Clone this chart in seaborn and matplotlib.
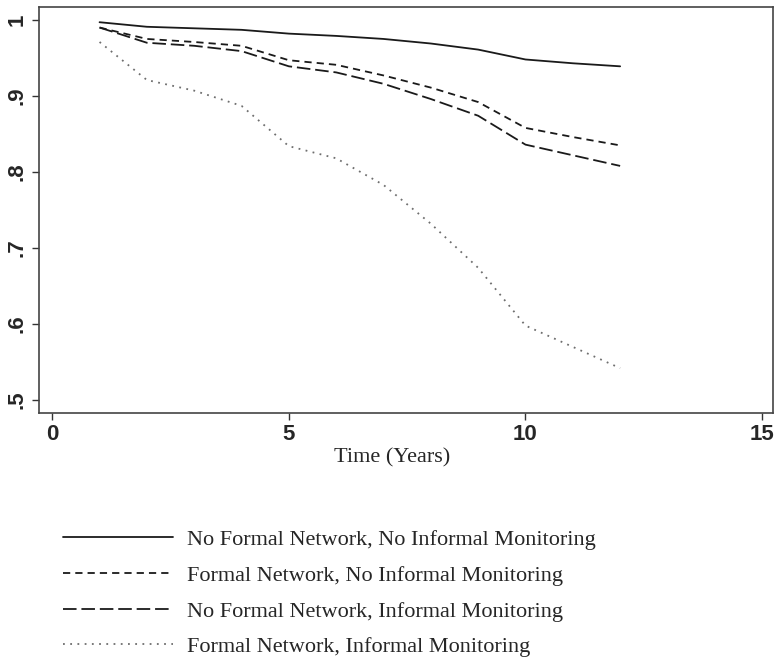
import pandas as pd
import seaborn as sns
import matplotlib.pyplot as plt

# survival curves over time (years 1-12)
years = [1, 2, 3, 4, 5, 6, 7, 8, 9, 10, 11, 12]

no_formal_no_informal = [0.997, 0.991, 0.989, 0.987, 0.982, 0.979, 0.975, 0.969, 0.961, 0.948, 0.943, 0.939]
formal_no_informal = [0.990, 0.975, 0.971, 0.966, 0.947, 0.941, 0.927, 0.911, 0.892, 0.858, 0.846, 0.835]
no_formal_informal = [0.990, 0.970, 0.966, 0.959, 0.939, 0.931, 0.916, 0.896, 0.874, 0.836, 0.822, 0.808]
formal_informal = [0.971, 0.921, 0.907, 0.887, 0.834, 0.818, 0.783, 0.732, 0.674, 0.598, 0.570, 0.542]

labels = ["No Formal Network, No Informal Monitoring",
          "Formal Network, No Informal Monitoring",
          "No Formal Network, Informal Monitoring",
          "Formal Network, Informal Monitoring"]

frames = []
for lab, vals in zip(labels, [no_formal_no_informal, formal_no_informal,
                              no_formal_informal, formal_informal]):
    frames.append(pd.DataFrame({"year": years, "surv": vals, "group": lab}))
df = pd.concat(frames, ignore_index=True)

sns.set_style("white")

palette = {labels[0]: "#1a1a1a", labels[1]: "#1a1a1a",
           labels[2]: "#1a1a1a", labels[3]: "#6e6e6e"}
dashes = {labels[0]: "", labels[1]: (4, 2.8),
          labels[2]: (7.5, 2.7), labels[3]: (1, 3)}

fig = plt.figure(figsize=(7.75, 6.68), dpi=100)
ax = fig.add_axes([0.0503, 0.3817, 0.9471, 0.6078])

sns.lineplot(data=df, x="year", y="surv", hue="group", style="group",
             palette=palette, dashes=dashes, linewidth=1.3, ax=ax, legend=False)

ax.set_xlim(-0.28, 15.23)
ax.set_ylim(0.483, 1.017)
ax.set_xticks([0, 5, 10, 15])
ax.set_xticklabels(["0", "5", "10", "15"])
ax.set_yticks([0.5, 0.6, 0.7, 0.8, 0.9, 1.0])
ax.set_yticklabels([".5", ".6", ".7", ".8", ".9", "1"], rotation=90, va="center")
for t in ax.get_xticklabels() + ax.get_yticklabels():
    t.set_fontfamily("Liberation Sans")
    t.set_fontweight("bold")
    t.set_fontsize(16)
ax.tick_params(axis="both", direction="out", length=5, width=1, color="#333333",
               bottom=True, left=True, pad=3)
for s in ax.spines.values():
    s.set_color("#444444")
    s.set_linewidth(1.2)

ax.set_xlabel("Time (Years)", fontfamily="Liberation Serif", fontsize=16)
ax.xaxis.set_label_coords(0.481, -0.086)
ax.set_ylabel("")

# legend below the plot
handles = ax.get_lines()[:4]
leg = fig.legend(handles, labels, loc="upper left", bbox_to_anchor=(0.056, 0.237),
                 frameon=False, handlelength=4.95, handletextpad=0.63,
                 labelspacing=0.68, prop={"family": "Liberation Serif", "size": 16})

fig.savefig("out.png", dpi=100)
